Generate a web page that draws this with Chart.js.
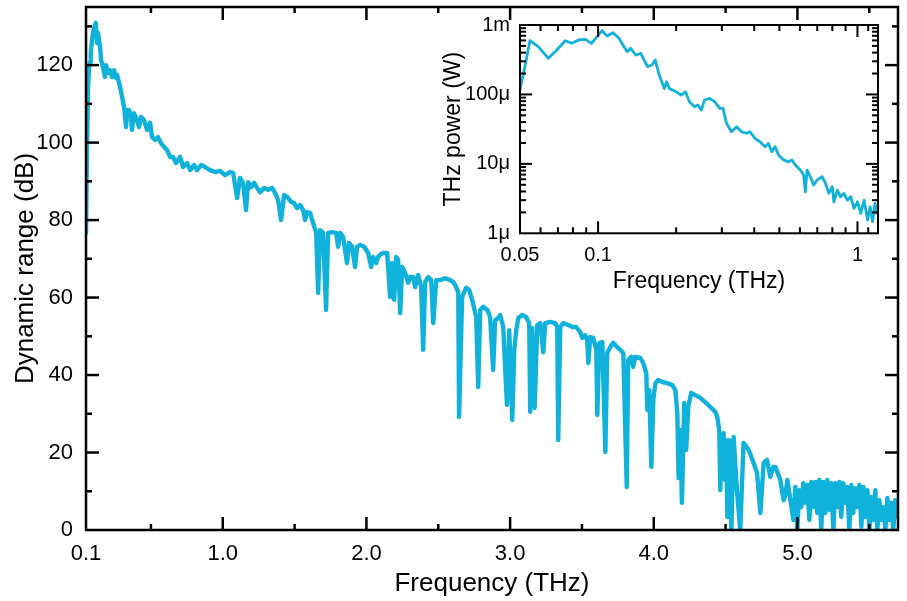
<!DOCTYPE html>
<html><head><meta charset="utf-8">
<script src="https://cdn.jsdelivr.net/npm/chart.js@4.4.1/dist/chart.umd.min.js"></script>
<style>
html,body{margin:0;padding:0;background:#fff;}
#wrap{position:relative;width:907px;height:601px;overflow:hidden;}
#main{position:absolute;left:0;top:0;}
#inset{position:absolute;left:430px;top:0;}
</style></head><body>
<div id="wrap"><canvas id="main" width="907" height="601"></canvas><canvas id="inset" width="470" height="300"></canvas></div>
<script>
// ---- Main plot: dynamic range vs frequency ----
const freqMain = [
0.048,0.055,0.062,0.069,0.076,0.081,0.090,0.100,0.116,0.125,0.132,0.146,0.153,0.166,0.180,0.187,0.201,0.215,0.229,0.243,
0.257,0.264,0.285,0.299,0.313,0.327,0.334,0.348,0.361,0.368,0.382,0.403,0.417,0.431,0.452,0.473,0.494,0.508,0.529,0.549,
0.570,0.591,0.612,0.633,0.654,0.675,0.703,0.724,0.752,0.773,0.800,0.821,0.849,0.877,0.911,0.946,0.981,1.016,1.051,1.072,
1.100,1.120,1.141,1.162,1.176,1.197,1.218,1.239,1.260,1.288,1.315,1.343,1.364,1.385,1.406,1.427,1.448,1.476,1.496,1.517,
1.538,1.559,1.573,1.587,1.608,1.629,1.650,1.664,1.677,1.698,1.719,1.733,1.761,1.789,1.803,1.817,1.838,1.865,1.879,1.900,
1.921,1.935,1.956,1.984,2.012,2.033,2.047,2.068,2.081,2.095,2.116,2.144,2.165,2.179,2.193,2.207,2.221,2.235,2.249,2.270,
2.291,2.305,2.325,2.339,2.360,2.381,2.395,2.409,2.430,2.451,2.465,2.486,2.513,2.548,2.583,2.604,2.618,2.639,2.645,2.666,
2.694,2.715,2.736,2.764,2.778,2.792,2.813,2.841,2.861,2.882,2.896,2.917,2.931,2.952,2.978,2.994,3.015,3.029,3.043,3.057,
3.084,3.112,3.133,3.140,3.154,3.171,3.189,3.210,3.231,3.244,3.279,3.314,3.328,3.335,3.349,3.370,3.405,3.432,3.460,3.488,
3.502,3.523,3.537,3.544,3.558,3.579,3.600,3.607,3.621,3.642,3.663,3.676,3.697,3.718,3.746,3.767,3.788,3.812,3.822,3.843,
3.857,3.871,3.906,3.927,3.948,3.955,3.969,3.983,3.997,4.011,4.031,4.059,4.094,4.129,4.150,4.164,4.173,4.185,4.196,4.212,
4.226,4.240,4.261,4.289,4.324,4.358,4.393,4.428,4.442,4.456,4.463,4.477,4.486,4.495,4.505,4.512,4.526,4.540,4.556,4.567,
4.579,4.602,4.625,4.660,4.695,4.719,4.742,4.765,4.788,4.811,4.832,4.846,4.881,4.904,4.916,4.930,4.951,4.972,4.985,4.999,
5.013,5.027,5.041,5.055,5.069,5.083,5.097,5.111,5.125,5.138,5.152,5.166,5.180,5.194,5.208,5.222,5.236,5.250,5.264,5.278,
5.292,5.305,5.319,5.333,5.347,5.361,5.375,5.389,5.403,5.417,5.431,5.445,5.459,5.473,5.487,5.501,5.514,5.528,5.542,5.556,
5.570,5.584,5.598,5.612,5.626,5.640,5.653,5.667,5.681,5.695,5.700
];
const dynamicRange = [
76.7,98.1,113.6,119.3,120.8,123.1,126.5,129.1,130.9,125.7,128.3,124.7,121.3,119.5,116.9,120.0,118.0,118.7,116.9,118.7,
116.7,117.5,114.4,111.8,109.2,104.0,108.4,108.4,106.6,103.3,107.6,105.8,104.0,106.6,105.8,103.3,105.1,101.4,100.7,101.4,
99.9,98.9,98.1,96.3,96.3,94.7,96.3,93.7,94.7,92.9,94.2,92.9,94.2,93.7,92.9,92.4,92.7,91.6,92.4,92.2,
85.7,90.9,89.6,82.6,89.8,88.5,89.6,88.3,87.2,88.3,87.8,88.3,87.0,85.2,80.0,86.5,86.0,84.7,84.4,83.1,
83.9,82.6,80.0,82.1,81.8,79.2,76.7,61.2,77.4,76.7,56.8,76.7,76.9,76.7,73.1,76.7,75.6,68.9,74.1,73.1,
67.9,73.1,73.6,73.1,71.5,67.9,70.5,68.9,70.5,71.0,71.5,71.5,60.1,68.9,59.4,70.5,69.7,56.0,67.9,66.3,
63.8,65.3,65.3,62.7,65.8,62.7,46.5,64.0,65.3,64.5,53.4,64.5,64.5,65.0,64.5,64.0,63.2,61.4,29.2,60.1,
62.5,62.0,59.4,55.0,36.9,56.8,57.6,56.8,55.0,41.3,54.2,54.7,55.5,52.4,32.3,51.6,28.4,46.5,51.6,54.7,
55.5,55.0,53.4,30.5,52.1,31.5,52.9,53.4,45.9,53.4,53.7,53.4,52.4,23.2,52.4,53.4,52.9,52.4,52.4,51.1,
49.6,50.3,49.0,43.1,49.8,49.6,46.5,29.7,48.3,48.5,20.1,45.7,47.2,48.3,47.2,46.5,45.7,11.1,43.9,44.7,
42.1,44.7,44.4,43.1,40.5,31.0,36.1,16.3,33.6,37.9,38.7,38.2,37.9,37.4,36.1,30.2,13.4,25.8,7.0,32.8,
20.7,31.8,35.4,34.8,34.1,33.0,31.8,30.5,29.2,25.8,10.3,24.0,25.0,12.9,23.2,3.4,23.2,0,24.0,17.3,
10.3,0,22.5,20.7,17.3,14.7,4.4,17.3,18.1,13.7,16.3,16.3,12.9,7.7,9.0,12.9,7.7,2.6,11.1,0,
10.3,5.9,12.1,7.0,11.6,2.6,12.4,5.9,12.4,4.4,12.9,0,12.4,4.4,12.9,5.2,12.1,0,12.1,5.9,
12.4,3.4,12.1,7.0,11.1,0,11.6,4.4,10.8,5.9,11.6,0.8,11.1,3.4,10.3,0,8.5,2.6,10.3,0,
7.7,2.6,5.9,0,8.3,2.6,7.0,0,7.7,3.4,6.0
];
const mainXTickValues = [0.048, 1, 2, 3, 4, 5];
const mainXTickLabels = ['0.1', '1.0', '2.0', '3.0', '4.0', '5.0'];
const mainYTickValues = [0, 20, 40, 60, 80, 100, 120];
const mainYTickLabels = ['0', '20', '40', '60', '80', '100', '120'];

// ---- Inset: THz power vs frequency (log-log) ----
const freqInset = [
0.0495,0.0522,0.0546,0.0588,0.0643,0.0693,0.0747,0.0793,0.0841,0.0893,0.0943,0.0991,0.1036,0.1084,0.1141,0.1204,0.1259,0.1296,0.1336,0.1397,
0.1461,0.1550,0.1612,0.1661,0.1721,0.1800,0.1837,0.1882,0.1998,0.2089,0.2172,0.2251,0.2354,0.2424,0.2499,0.2574,0.2692,0.2816,0.2944,0.3032,
0.3126,0.3268,0.3418,0.3574,0.3738,0.3850,0.4026,0.4210,0.4403,0.4535,0.4675,0.4815,0.4962,0.5188,0.5424,0.5592,0.5758,0.6021,0.6202,0.6296,
0.6393,0.6583,0.6781,0.6990,0.7311,0.7530,0.7757,0.7997,0.8112,0.8362,0.8613,0.8869,0.9146,0.9419,0.9701,1.000,1.030,1.061,1.094,1.119,
1.144,1.168,1.189,1.202
];
const powerInset = [
9.8e-5,2.5e-4,5.94e-4,4.87e-4,3.31e-4,4.36e-4,5.94e-4,5.45e-4,6.08e-4,6.22e-4,5.45e-4,6.79e-4,8.28e-4,6.95e-4,7.74e-4,6.43e-4,4.87e-4,4.13e-4,4.61e-4,3.70e-4,
3.91e-4,2.51e-4,2.65e-4,3.13e-4,1.90e-4,1.22e-4,1.52e-4,1.22e-4,1.09e-4,9.8e-5,1.09e-4,7.85e-5,6.65e-5,7.03e-5,5.96e-5,8.3e-5,8.79e-5,7.85e-5,6.31e-5,6.31e-5,
3.84e-5,2.90e-5,3.43e-5,2.90e-5,2.75e-5,2.90e-5,2.33e-5,2.08e-5,1.77e-5,1.97e-5,1.50e-5,1.77e-5,1.34e-5,1.14e-5,1.07e-5,1.14e-5,9.6e-6,8.14e-6,6.9e-6,3.96e-6,
8.14e-6,6.52e-6,4.95e-6,5.85e-6,6.52e-6,5.24e-6,3.76e-6,4.68e-6,2.84e-6,4.19e-6,3.36e-6,3.76e-6,3.0e-6,3.36e-6,2.29e-6,2.84e-6,1.94e-6,3.0e-6,1.55e-6,2.41e-6,
1.47e-6,2.70e-6,1.94e-6,2.59e-6
];
const insetXTickValues = [0.05, 0.1, 1];
const insetXTickLabels = ['0.05', '0.1', '1'];
const insetYTickValues = [1e-6, 1e-5, 1e-4, 1e-3];
const insetYTickLabels = ['1\u03bc', '10\u03bc', '100\u03bc', '1m'];

const LINE_COLOR = '#10b2dc';
Chart.defaults.font.family = "'Liberation Sans', Arial, sans-serif";
Chart.defaults.color = '#000';

const frameTicks = {
  id: 'frameTicks',
  afterDraw(chart, args, o) {
    const {ctx, chartArea: a} = chart;
    const xs = chart.scales.x, ys = chart.scales.y;
    ctx.save();
    ctx.strokeStyle = '#000';
    ctx.lineWidth = o.lw;
    ctx.lineCap = 'butt';
    const seg = (x1, y1, x2, y2) => { ctx.beginPath(); ctx.moveTo(x1, y1); ctx.lineTo(x2, y2); ctx.stroke(); };
    const xt = (vals, len) => vals.forEach(v => { const p = xs.getPixelForValue(v); seg(p, a.bottom, p, a.bottom - len); seg(p, a.top, p, a.top + len); });
    const yt = (vals, len) => vals.forEach(v => { const p = ys.getPixelForValue(v); seg(a.left, p, a.left + len, p); seg(a.right, p, a.right - len, p); });
    xt(o.xMajor, o.major); xt(o.xMinor, o.minor);
    yt(o.yMajor, o.major); yt(o.yMinor, o.minor);
    ctx.strokeRect(a.left, a.top, a.right - a.left, a.bottom - a.top);
    ctx.restore();
  }
};

function setTicks(vals) { return (scale) => { scale.ticks = vals.map(v => ({value: v})); }; }
function labelFrom(labels) { return (value, index) => labels[index]; }
function fixX(h) { return s => { s.height = h; s.paddingLeft = 0; s.paddingRight = 0; s.paddingTop = 0; s.paddingBottom = 0; }; }
function fixY(w) { return s => { s.width = w; s.paddingTop = 0; s.paddingBottom = 0; s.paddingLeft = 0; s.paddingRight = 0; }; }

// minor tick positions (drawing only)
const mainXMinor = [0.5, 1.5, 2.5, 3.5, 4.5, 5.5];
const mainYMinor = [10, 30, 50, 70, 90, 110, 130];
const insetXMinor = [0.06, 0.07, 0.08, 0.09, 0.2, 0.3, 0.4, 0.5, 0.6, 0.7, 0.8, 0.9, 1.1];
const insetYMinor = [];
[1e-6, 1e-5, 1e-4].forEach(d => { for (let k = 2; k <= 9; k++) insetYMinor.push(k * d); });

new Chart(document.getElementById('main'), {
  type: 'line',
  data: { datasets: [{
    data: freqMain.map((f, i) => ({x: f, y: dynamicRange[i]})),
    borderColor: LINE_COLOR, borderWidth: 4.4, pointRadius: 0, tension: 0, fill: false,
    borderJoinStyle: 'round', borderCapStyle: 'round'
  }]},
  options: {
    responsive: false, animation: false, devicePixelRatio: 1,
    layout: { padding: { left: 0, right: 9, top: 7, bottom: 0 } },
    plugins: { legend: { display: false }, tooltip: { enabled: false },
      frameTicks: { lw: 2.5, major: 13, minor: 6, xMajor: [1, 2, 3, 4, 5], xMinor: mainXMinor, yMajor: [20, 40, 60, 80, 100, 120], yMinor: mainYMinor } },
    scales: {
      x: { type: 'linear', min: 0.048, max: 5.70,
        afterBuildTicks: setTicks(mainXTickValues),
        afterFit: fixX(71),
        grid: { display: false, drawTicks: false }, border: { display: false },
        ticks: { callback: labelFrom(mainXTickLabels), autoSkip: false, maxRotation: 0, padding: 11, font: { size: 22 } },
        title: { display: true, text: 'Frequency (THz)', font: { size: 26 }, padding: { top: 0, bottom: 2 } } },
      y: { type: 'linear', min: 0, max: 135,
        afterBuildTicks: setTicks(mainYTickValues),
        afterFit: fixY(86),
        grid: { display: false, drawTicks: false }, border: { display: false },
        ticks: { callback: labelFrom(mainYTickLabels), autoSkip: false, padding: 13, font: { size: 22 } },
        title: { display: true, text: 'Dynamic range (dB)', font: { size: 26 }, padding: { top: 10, bottom: 0 } } }
    }
  },
  plugins: [frameTicks]
});

new Chart(document.getElementById('inset'), {
  type: 'line',
  data: { datasets: [{
    data: freqInset.map((f, i) => ({x: f, y: powerInset[i]})),
    borderColor: LINE_COLOR, borderWidth: 2.8, pointRadius: 0, tension: 0, fill: false,
    borderJoinStyle: 'round', borderCapStyle: 'round'
  }]},
  options: {
    responsive: false, animation: false, devicePixelRatio: 1,
    layout: { padding: { left: 0, right: 22, top: 25, bottom: 0 } },
    plugins: { legend: { display: false }, tooltip: { enabled: false },
      frameTicks: { lw: 2, major: 12, minor: 6, xMajor: [0.1, 1], xMinor: insetXMinor, yMajor: [1e-5, 1e-4], yMinor: insetYMinor } },
    scales: {
      x: { type: 'logarithmic', min: 0.05, max: 1.2,
        afterBuildTicks: setTicks(insetXTickValues),
        afterFit: fixX(66.7),
        grid: { display: false, drawTicks: false }, border: { display: false },
        ticks: { callback: labelFrom(insetXTickLabels), autoSkip: false, maxRotation: 0, padding: 10, font: { size: 20 } },
        title: { display: true, text: 'Frequency (THz)', font: { size: 23 }, padding: { top: 0, bottom: 4.5 } } },
      y: { type: 'logarithmic', min: 1e-6, max: 1e-3,
        afterBuildTicks: setTicks(insetYTickValues),
        afterFit: fixY(90),
        grid: { display: false, drawTicks: false }, border: { display: false },
        ticks: { callback: labelFrom(insetYTickLabels), autoSkip: false, padding: 10, font: { size: 20 } },
        title: { display: true, text: 'THz power (W)', font: { size: 23 }, padding: { top: 10, bottom: 0 } } }
    }
  },
  plugins: [frameTicks]
});
</script>
</body></html>
